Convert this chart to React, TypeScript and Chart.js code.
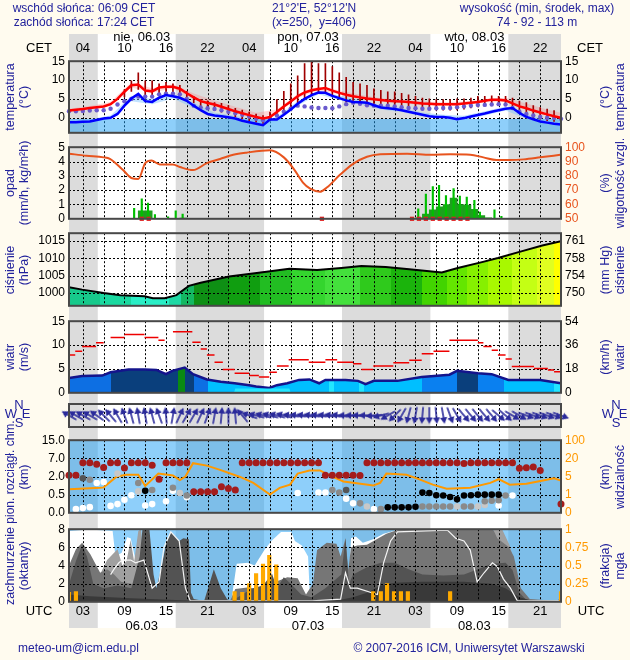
import React, { useEffect, useRef } from 'react';
import { Chart, registerables } from 'chart.js';

Chart.register(...registerables);

// ---------- style constants ----------
const FONT = '"Liberation Sans", Arial, Helvetica, sans-serif';
const CREAM = '#fffbef';
const NIGHT = '#dcdcdc';
const NAVY = '#22229c';
const FRAME = '#484848';
const SKY = 'rgba(30,160,245,0.5)';
const SIDE = 69;
const PAD = 9;

// ---------- time axis ----------
const X_MIN = 1;
const X_MAX = 72;
const HOURS = [1,2,3,4,5,6,7,8,9,10,11,12,13,14,15,16,17,18,19,20,21,22,23,24,25,26,27,28,29,30,31,32,33,34,35,36,37,38,39,40,41,42,43,44,45,46,47,48,49,50,51,52,53,54,55,56,57,58,59,60,61,62,63,64,65,66,67,68,69,70,71,72];
const GRID_HOURS = [3,6,9,12,15,18,21,24,27,30,33,36,39,42,45,48,51,54,57,60,63,66,69];
const LABEL_HOURS = [3,9,15,21,27,33,39,45,51,57,63,69];
const CET_LABELS = ['04','10','16','22','04','10','16','22','04','10','16','22'];
const UTC_LABELS = ['03','09','15','21','03','09','15','21','03','09','15','21'];
const NIGHT_FROM = [1, 16.4, 40.4, 64.4];
const NIGHT_TO = [5.15, 29.15, 53.15, 72];
const DAY_NAMES = ['nie, 06.03', 'pon, 07.03', 'wto, 08.03'];
const DAY_DATES = ['06.03', '07.03', '08.03'];
const DAY_LABEL_HOURS = [11.5, 35.5, 59.5];

// ---------- temperature ----------
const TEMP_TICKS = [0, 5, 10, 15];
const TEMP_LABELS = ['0', '5', '10', '15'];
const TEMP_AIR = [1.9,2.1,2.3,2.6,2.8,3.0,3.6,5.0,6.9,8.6, 8.8,7.2,7.0,8.0,8.2,8.2,7.7,6.5,5.4,4.4, 3.9,3.5,2.9,2.3,1.7,1.2,0.7,0.2,-0.2,0.2, 1.5,3.0,4.3,5.7,6.7,7.3,7.6,7.9,7.2,6.6, 6.1,5.7,5.4,5.1,4.9,4.7,4.5,4.4,4.3,4.2, 4.0,3.8,3.7,3.6,3.6,3.6,3.6,3.8,4.0,4.2, 4.5,4.8,4.8,4.6,3.8,3.0,2.5,1.9,1.4,0.9, 0.4,0.0];
const TEMP_DEW = [-1.2,-1.2,-1.1,-1.0,-0.6,-0.2,0.0,1.0,3.2,5.1, 6.3,4.4,4.2,5.3,6.0,5.7,5.3,4.5,3.2,2.0, 1.0,0.6,0.4,0.1,-0.2,-0.8,-1.2,-1.6,-2.0,-0.5, -0.5,0.8,2.2,3.7,5.0,6.0,6.7,6.6,5.8,5.2, 4.6,4.2,4.1,4.0,3.3,2.7,2.5,2.3,2.0,1.6, 1.2,0.8,0.4,0.2,0.2,0.0,-0.4,-0.1,0.3,0.7, 1.1,1.6,2.0,2.4,2.6,1.3,0.2,-0.4,-1.0,-1.3, -1.6,-1.8];
const TEMP_FEEL = [1.7,1.7,1.8,1.9,2.0,2.0,2.4,3.5,4.4,5.0, 5.6,5.6,5.6,6.2,6.4,6.4,6.2,5.0,3.2,2.7, 2.5,2.3,2.0,1.6,1.2,0.8,0.3,-0.3,-0.7,-0.2, 0.6,1.6,2.4,3.2,3.0,2.7,2.6,2.6,2.5,3.0, 3.6,4.0,3.7,3.3,3.2,3.2,3.2,3.0,2.8,2.6, 2.5,2.4,2.4,2.5,2.6,2.6,2.8,3.0,3.2,3.4, 3.4,3.5,3.6,3.5,2.6,1.6,1.0,0.6,0.2,0.0, -0.1,-0.3];
const BAND_HOURS = [1,4,7,10,13,16,19,22,25,28,31,34,37,40,43,46,49,52,55,58,61,64,67,70,72];
const AIR_BAND_HI = [2.4,3.1,4.2,9.4,7.8,8.9,6.4,4.6,2.9,1.3,2.2,6.3,8.2,7.3,6.1,5.2,4.8,4.3,4.1,4.3,5.0,5.3,3.8,2.2,1.3];
const AIR_BAND_LO = [1.6,2.3,3.2,8.0,6.6,7.8,5.0,3.1,1.3,-0.2,1.1,5.3,7.2,6.2,5.0,4.3,3.9,3.4,3.2,3.4,4.1,4.2,2.1,0.5,-0.4];
const DEW_BAND_HI = [-0.6,-0.4,0.6,5.8,5.0,6.4,4.0,1.3,0.5,-0.9,0.2,4.4,7.2,5.8,4.8,3.3,2.6,1.4,0.8,0.5,1.7,3.0,0.9,-0.6,-1.2];
const DEW_BAND_LO = [-1.6,-1.4,-0.4,4.4,3.6,5.1,2.6,0.1,-0.7,-2.1,-1.0,3.2,6.2,4.7,3.6,2.2,1.5,0.3,-0.3,-0.6,0.6,1.9,-0.3,-1.8,-2.3];
const RANGE_HOURS = [9,10,11,12,13,14,15,16,17,18,19,20,21,22,23,24,25,26,27,28,29,30,31,32,33,34,35,36,37,38,39,40,41,42,43,44,45,46,47,48,49,50,51,52,53,54,55,56,57,58,59,60,61,62,63,64,65,66,67,68,69,70,71];
const RANGE_HIGH = [7.5,9.8,11.9,9.8,9.8,9.0,9.4,9.0,8.6,7.0, 5.7,4.8,4.5,4.0,3.8,3.2,2.5,2.0,1.5,1.0, 0.6,1.5,4.8,7.0,9.0,11.1,14.4,14.8,14.4,14.4, 13.6,11.9,10.7,9.4,9.0,8.6,7.7,7.3,6.9,6.9, 6.5,6.1,5.7,5.2,5.0,4.8,4.8,4.8,5.0,5.0, 5.2,5.7,5.7,5.8,5.7,5.7,5.2,4.4,4.0,3.2, 2.7,2.3,1.9];
const RANGE_LOW = [5.5,7.0,7.5,6.0,6.0,6.5,6.8,6.8,6.5,5.5, 4.0,3.0,2.5,2.0,1.5,1.0,0.3,-0.3,-0.8,-1.2, -1.5,-0.8,0.3,1.5,2.8,4.0,5.0,5.8,6.5,6.5, 5.8,5.0,4.2,3.8,3.5,3.3,3.0,2.8,2.6,2.5, 2.4,2.3,2.2,2.1,2.0,2.0,2.0,2.0,2.1,2.3, 2.6,2.9,3.1,3.3,3.4,3.3,2.4,1.4,0.6,0.0, -0.4,-0.8,-1.0];

// ---------- precipitation / humidity ----------
const PREC_TICKS = [0, 1, 2, 3, 4, 5];
const PREC_LABELS = ['0', '1', '2', '3', '4', '5'];
const RH_TICKS = [50, 60, 70, 80, 90, 100];
const RH_LABELS = ['50', '60', '70', '80', '90', '100'];
const RH_HOURS = [1,3.5,6,6.9,8.8,10,11,12,12.9,14.1,16,17,18.9,20.9,22.8,24.7,26.6,30,32,33.4,34.8,35.8,37.2,38.2,40.1,42,44,45.9,49.8,53.2,56,58.9,60.8,62.7,64.6,66.6,69,71.9];
const RH_VALUES = [95.5,94,92.9,91.8,84,78.5,77.8,88.9,90.7,88,88,86.2,84,88.9,91.8,94.7,96.2,97.8,92.9,85.1,75.1,71,68.9,71.8,80.7,88.4,93.3,95.1,95.5,94.7,95,94.7,92.9,91.1,91.1,91.5,92.9,94.7];
const RAIN_HOURS = [11.5,12.5,17.5,51.5,52.5,53.5,54.5,55.5,56.5,57.5,58.5,59.5,60.5,61.5];
const RAIN_VALUES = [0.55,0.55,0.05,0.07,0.33,0.62,0.84,1.0,1.44,1.0,0.96,0.67,0.22,0.07];
const SHOWER_HOURS = [10.4,11.5,12.4,13.4,15.3,16.4,17.4,51.4,52.5,53.5,54.4,55.4,56.5,57.4,58.4,59.5,60.3,62.4,63.4];
const SHOWER_VALUES = [0.73,1.4,1.1,0.29,0.13,0.55,0.33,0.69,1.73,2.25,2.33,1.62,2.11,1.58,1.51,1.29,0.47,0.62,0.18];
const MARK_HOURS = [11.5,12.5,37.5,50.5,51.5,52.5,53.5,54.5,55.5,56.5,57.5,58.5];

// ---------- pressure ----------
const PRES_TICKS = [1000, 1005, 1010, 1015];
const PRES_LABELS = ['1000', '1005', '1010', '1015'];
const MMHG_LABELS = ['750', '754', '758', '761'];
const PRES_HOURS = [1,2.9,6,8.4,11.9,13.1,14.8,16.5,18.3,20,24.1,28.1,32.8,36.8,40.3,43.2,46.7,50.1,54.8,57.1,60.6,62.9,66.4,69.3,72];
const PRES_VALUES = [1001.6,1000.9,999.9,999.3,999.0,998.4,998.4,999.3,1002.0,1002.9,1004.7,1005.7,1007.0,1006.6,1007.2,1007.8,1007.5,1006.8,1005.9,1007.2,1008.9,1010.1,1012.1,1013.7,1015.0];
const PRES_COLOR_FROM = [1,5.5,10,15.5,17.2,19,24,28.5,33,38,43,47.5,52,55.5,58.5,61.5,65,68.5,71];
const PRES_COLORS = ['#17c98b','#1ad9a0','#2aeec6','#1ed8a4','#14b862','#0e8f14','#109e10','#22bd22','#34d52e','#44e03c','#2fca1c','#1bb40c','#42d400','#64e600','#86f000','#a8f800','#c4ff14','#e0ff20','#ffff00'];

// ---------- wind ----------
const WIND_TICKS = [0, 5, 10, 15];
const WIND_LABELS = ['0', '5', '10', '15'];
const KMH_LABELS = ['0', '18', '36', '54'];
const WIND_HOURS = [1,2.9,5.8,7,9.6,11.9,13.6,15,15.9,17.7,18.9,20.9,22.9,24.9,27,28,29.9,31,32.5,34.2,35.7,37.1,38,40.9,42.7,43.8,45,48.4,51.9,55.9,57,60,62,64.4,66.4,69,72];
const WIND_SPEED = [3.1,3.5,3.6,4.3,4.9,4.9,4.8,3.9,4.6,5.3,3.9,2.8,2.3,2.0,1.6,1.3,1.0,1.6,2.0,2.7,2.8,2.0,2.7,2.7,2.5,1.8,2.5,2.5,3.3,3.8,4.6,4.1,3.9,2.7,2.7,2.7,2.0];
const CALM_HOURS = [24.8, 25, 32.8, 33];
const CALM_SPEED = [0, 0.9, 0.9, 0];
const WIND_COLOR_FROM = [1,7,16.8,17.8,19,21,38.5,39.3,42.8,43.6,52,57,60,63.8,71];
const WIND_COLORS = ['#0d6fe3','#0a3f7c','#0a8a12','#0a3f7c','#0d6fe3','#00bfff','#22e6ff','#00bfff','#22e6ff','#00bfff','#0a80f0','#0a3f7c','#0a80f0','#00bfff','#22e6ff'];
const GUST_FROM = [1,1.9,2.9,4.9,7,9,11.9,13.9,16,18.8,20,20.9,22,23.2,24.9,27,28.4,29.9,31,32.7,35.6,38,39.7,42,43.2,44.9,47.8,50.1,51.9,53.6,55.9,60,60.8,62,62.9,64,64.9,68.1,70.1,71];
const GUST_TO = [1.9,2.9,4.9,6,9,11.9,13.9,14.8,18.8,20,20.9,22,23.2,24.9,27,28.4,29.9,31,32.7,35.6,38,39.7,42,43.2,44.9,47.8,50.1,51.9,53.6,55.9,60,60.8,62,62.9,64,64.9,68.1,70.1,71,72];
const GUST_SPEED = [7.9,8.7,9.7,10.5,11.6,12.2,11.6,11.0,12.8,10.6,9.2,7.9,6.4,4.9,4.1,3.6,3.3,4.3,5.6,6.9,6.4,6.9,6.4,6.1,4.9,5.6,6.3,6.8,8.2,8.7,11.0,10.5,9.7,8.9,7.9,7.1,5.5,5.1,4.8,4.4];
// meteorological wind direction (blowing from, degrees), hourly
const WIND_DIR = [120,120,120,120,125,135,140,150,160,165, 170,170,165,160,175,190,205,210,210,205, 200,190,185,180,175,140,110,105,105,105, 105,105,98,98,98,98,98,98,98,98, 92,92,92,92,85,75,60,45,30,15, 10,5,0,355,350,340,330,320,320,320, 320,320,310,310,300,300,290,290,290,290, 290,290];

// ---------- cloud base / visibility ----------
const CB_POS = [0, 1, 2, 3, 4];
const CB_SCALE = [0, 0.5, 2, 7, 15];
const CB_LABELS = ['0.0', '0.5', '2.0', '7.0', '15.0'];
const VIS_SCALE = [0, 1, 5, 20, 100];
const VIS_LABELS = ['0', '1', '5', '20', '100'];
const VIS_HOURS = [1,5.5,6,7.9,9.3,11,12,13.9,16,17,17.8,18.9,20.9,22.8,25.7,27.6,30,31.4,32.9,34,35.7,37.2,39.1,40.6,42,44.9,45.9,46.8,49.7,51.2,53.5,55.5,58.9,61.8,63,64.6,67,69.4,71,72];
const VIS_KM = [2.2,2.5,2.6,5.0,6.5,6.5,2.9,7.4,5.8,4.2,5.0,16,14,10.5,4.9,3.6,1.0,2.5,3.2,7.4,10,10,4.9,3.9,3.6,3.0,3.6,7.4,6.5,4.6,3.2,2.3,2.5,3.6,4.4,3.2,3.4,4.1,4.6,4.1];
const RED_DOT_HOURS = [1,2,3,4,5,6,7,8,9,10,11,12,13,14,15,16,17,18,19,20,21,22,23,24,25,26,27,28,29,30,31,32,33,34,35,36,37,38,39,40,41,42,43,44,45,46,47,48,49,50,51,52,53,54,55,56,57,58,59,60,61,62,63,64,65,66,67,68,69,72];
const RED_DOT_KM = [2.35,2.35,5.8,5.8,5.4,4.5,5.8,5.8,4.35,5.8,5.8,5.8,5.1,1.78,5.8,5.8,5.8,5.8,0.74,0.74,0.74,0.74,1.15,1.0,0.89, 5.8,5.8,5.8,5.8,5.8,5.8,5.8,5.8,5.8,5.8,5.8,5.8, 2.35,2.35,2.35,2.35,2.35,2.3, 5.8,5.8,5.8,5.8,5.8,5.8,5.8,5.8,5.8,5.8,5.8,5.8,5.8,5.8, 5.6, 5.8,5.8,5.8,5.8,5.8,5.8,5.8, 4.25,4.4,4.65,3.65, 0.24];
const WHITE_DOT_HOURS = [2,3,4,5,6,7,8,9,10,12,13,15,16,18,34,37,38,41,42,45,63,65];
const WHITE_DOT_KM = [0.1,0.13,0.155,1.46,1.54,0.19,0.24,0.36,0.485,0.2,0.24,0.32,0.815,0.43,0.64,0.68,0.68,0.39,0.26,0.1,0.2,0.475];
const LIGHT_DOT_HOURS = [8,11,17,44,57,60,61];
const LIGHT_DOT_KM = [2.8,0.77,0.635,0.175,0.175,0.175,0.215];
const GRAY_DOT_HOURS = [4,11,13,16,18,39,40,43,46,52,53,54,55,56,58,59,61,62,63,64];
const GRAY_DOT_KM = [1.73,1.46,0.89,1.07,0.475,0.89,0.68,0.26,0.1,0.175,0.175,0.175,0.175,0.175,0.175,0.175,0.32,0.33,0.345,0.475];
const DARK_DOT_HOURS = [3,41];
const DARK_DOT_KM = [1.85,0.89];
const BLACK_DOT_HOURS = [12,47,48,49,50,51,52,53,54,55,56,57,58,59,60,61,62,63];
const BLACK_DOT_KM = [0.815,0.15,0.15,0.15,0.15,0.165,0.68,0.635,0.485,0.475,0.435,0.37,0.475,0.485,0.5,0.5,0.5,0.5];

// ---------- cloud cover / fog ----------
const CC_TICKS = [0, 2, 4, 6, 8];
const CC_LABELS = ['0', '2', '4', '6', '8'];
const FOG_TICKS = [0, 0.25, 0.5, 0.75, 1];
const FOG_LABELS = ['0', '0.25', '0.5', '0.75', '1'];
const CLOUD_WHITE_H = [1,3,5,7.3,7.7,8.6,9.4,9.9,10.6,11.8,12.3,24.4,25.2,26.8,27.8,29.2,30.2,31.6,33.1,33.6,34.6,35.5,35.8,41.2,41.7,42.4,43.4,44.9,46.4,48.4,50.8,52,53,72];
const CLOUD_WHITE_V = [7.8,7.9,7.9,7.8,5.0,5.4,7.1,7.0,4.6,4.6,0.5,0,4.2,4.3,4.0,5.7,6.7,7.7,7.7,6.7,6.2,5.0,0,0,7.0,7.2,6.5,6.9,7.5,7.9,8,8,0,0];
const CLOUD_LIGHT_H = [1,5,5.6,6.5,8,8.7,9.3,9.9,10.4,11,11.4,11.8,12.3,62,62.3,63.5,64.6,65.2,65.8,66.5,72];
const CLOUD_LIGHT_V = [0,3.0,3.2,4.6,5.8,4.0,4.5,6.8,4.4,7.8,8,3,0,0,8,8,6.2,4.5,1.5,0.3,0];
const CLOUD_MID_H = [1,2,2.9,4.1,5.5,6.5,7.5,8.5,10,11.2,13,18.8,24.3,25,27,28.5,30,31.5,32.5,34,35.2,36.2,36.8,38.2,39.6,40.2,40.9,41.3,41.7,42.6,44,45.4,46.8,48.4,50,62.2,62.8,64.5,65.2,66.2,67.5,71.5,72];
const CLOUD_MID_V = [4.0,5.8,6.5,5.2,3.2,3.6,3.0,2.2,2.0,1.5,1.0,0.2,0.2,1.4,1.6,1.2,2.0,2.4,2.7,2.6,0.8,2.0,5.7,6.5,6.4,5.0,7.0,3.5,6.0,6.2,6.3,6.9,7.5,7.9,8,8,7.0,6.0,5.0,1.5,0.3,0.1,0.6];
const CLOUD_DARK_H = [1,2,2.9,3.6,4.5,6,8,10,11.2,11.6,12.6,13.2,13.6,14.4,15,15.7,16.9,17.5,18.3,18.6,19,20.5,21.9,22.9,23.8,24.3,27.5,29,30.3,31,32,33,34.5,36,38,40.3,40.9,41.4,42,44,46,48,50,52,55,58,60,62,64,65,66,67,72];
const CLOUD_DARK_V = [1.9,4.5,6.3,5.0,2.0,1.5,1.8,1.5,5.0,8,8,3.0,1.5,4.0,6.4,7.7,6.7,7.0,6.9,1.0,0.3,0.1,3.6,1.5,0.3,0,1.5,1.8,3.1,1.5,2.7,2.0,0.8,0.5,1.5,3.0,7.0,2.0,3.0,3.8,4.3,4.3,3.6,3.0,2.9,3.0,3.6,4.2,4.3,3.5,1.0,0.2,0.1];
const CLOUD_DARKEST_H = [1,4,10,20,40,42,44,46,48,52,58,62,64,66,68,72];
const CLOUD_DARKEST_V = [0.8,0.6,0.4,0.1,0.2,0.5,1.0,1.8,2.1,2.2,2.2,2.0,1.5,0.5,0.1,0];
const CLOUD_LINE_H = [7,7.5,8.2,8.7,9.9,10.6,11.8,13,14,14.7,15.7,16.9,17.8,18.5,24.3,36.1,40.2,40.9,41.6,42.6,45.5,46.4,47.4,48.4,55.6,56.8,58,58.9,59.9,60.9,62.1,62.8,63.7,64.7,65.7,72];
const CLOUD_LINE_V = [3.0,3.6,4.3,4.6,4.6,4.3,4.6,1.5,2.2,6.0,7.7,6.7,1.5,0.1,0.1,0.1,0.3,3.2,1.5,1.5,0.8,4.3,6.7,7.7,7.9,7.0,6.7,5.7,2.2,3.2,4.3,3.9,2.5,1.5,0.1,0.1];
const FOG_HOURS = [1,2,24.9,26,27,28,29,29.9,30.9,44.9,46,46.9,47.9,48.9,49.9,56,72];
const FOG_VALUES = [0.13,0.14,0.14,0.13,0.25,0.39,0.52,0.64,0.51,0.14,0.14,0.25,0.14,0.14,0.14,0.14,0.14];

// ---------- panel placement (page px) ----------
const P_TEMP = [59, 135];
const P_PREC = [145, 221];
const P_PRES = [231, 308];
const P_WIND = [319, 395];
const P_ARROW = [403, 428];
const P_CBASE = [438, 515];
const P_CLOUD = [527, 604];

// ---------- helpers ----------
const zip = (xs: number[], ys: (number | null)[]) => xs.map((x, i) => ({ x, y: ys[i] }));

function toPos(v: number, scale: number[]) {
  for (let i = 0; i < scale.length - 1; i++) {
    if (v <= scale[i + 1]) return i + (v - scale[i]) / (scale[i + 1] - scale[i]);
  }
  return scale.length - 1;
}

function stripGradient(chart: any, froms: number[], colors: string[]) {
  const a = chart.chartArea;
  if (!a) return colors[0];
  const x = chart.scales.x;
  const w = a.right - a.left;
  const pos = (h: number) => Math.min(1, Math.max(0, (x.getPixelForValue(h) - a.left) / w));
  const g = chart.ctx.createLinearGradient(a.left, 0, a.right, 0);
  froms.forEach((f, i) => {
    const t = i + 1 < froms.length ? froms[i + 1] : X_MAX;
    g.addColorStop(pos(f), colors[i]);
    g.addColorStop(pos(t), colors[i]);
  });
  return g;
}

function drawGrid(chart: any, yGrid: number[]) {
  const { ctx, chartArea: a, scales } = chart;
  ctx.save();
  ctx.beginPath();
  ctx.rect(a.left, a.top, a.right - a.left, a.bottom - a.top);
  ctx.clip();
  ctx.strokeStyle = '#000';
  ctx.lineWidth = 1;
  ctx.setLineDash([2, 2]);
  ctx.beginPath();
  for (const h of GRID_HOURS) {
    const px = Math.round(scales.x.getPixelForValue(h)) + 0.5;
    ctx.moveTo(px, a.top);
    ctx.lineTo(px, a.bottom);
  }
  for (const v of yGrid) {
    const py = Math.round(scales.y.getPixelForValue(v)) + 0.5;
    ctx.moveTo(a.left, py);
    ctx.lineTo(a.right, py);
  }
  ctx.stroke();
  ctx.restore();
}

function meteoPlugin(o: { bg?: string; freezeBelow?: number; gridOnTop?: boolean; yGrid: number[] }) {
  return {
    id: 'meteo',
    beforeDatasetsDraw(chart: any) {
      const { ctx, chartArea: a, scales } = chart;
      if (o.bg) {
        ctx.save();
        ctx.fillStyle = o.bg;
        ctx.fillRect(a.left, a.top, a.right - a.left, a.bottom - a.top);
        ctx.restore();
      }
      if (!o.gridOnTop) drawGrid(chart, o.yGrid);
      if (o.freezeBelow !== undefined) {
        const y0 = Math.round(scales.y.getPixelForValue(o.freezeBelow)) + 1;
        ctx.save();
        ctx.fillStyle = SKY;
        ctx.fillRect(a.left, y0, a.right - a.left, a.bottom - y0);
        ctx.restore();
      }
    },
    afterDatasetsDraw(chart: any) {
      if (o.gridOnTop) drawGrid(chart, o.yGrid);
      const { ctx, chartArea: a } = chart;
      ctx.save();
      ctx.strokeStyle = FRAME;
      ctx.lineWidth = 2;
      ctx.setLineDash([]);
      ctx.strokeRect(a.left, a.top, a.right - a.left, a.bottom - a.top);
      ctx.restore();
    },
  };
}

function yAxis(position: string, min: number, max: number, ticks: number[], labels: string[], color = '#000', show = true) {
  return {
    type: 'linear',
    position,
    min,
    max,
    display: true,
    beginAtZero: false,
    afterFit: (s: any) => { s.width = SIDE; },
    afterBuildTicks: (s: any) => { s.ticks = ticks.map((v) => ({ value: v })); },
    grid: { display: false, drawTicks: false },
    border: { display: false },
    ticks: {
      display: show,
      autoSkip: false,
      color,
      padding: 4,
      font: { family: FONT, size: 12 },
      callback: (_v: any, i: number) => labels[i],
    },
  };
}

function panel(datasets: any[], y: any, y2: any, plug: any) {
  return {
    type: 'line',
    data: { datasets },
    options: {
      responsive: false,
      animation: false,
      devicePixelRatio: 1,
      events: [],
      layout: { padding: { top: PAD, bottom: PAD, left: 0, right: 0 } },
      scales: {
        x: { type: 'linear', min: X_MIN, max: X_MAX, display: false, offset: false, grid: { offset: false } },
        y,
        y2,
      },
      plugins: { legend: { display: false }, tooltip: { enabled: false } },
    },
    plugins: [plug],
  };
}

const line = (data: any[], extra: any) => ({ type: 'line', data, pointRadius: 0, tension: 0, fill: false, ...extra });
const dots = (data: any[], color: string, r: number, order: number) => ({
  type: 'line', data, showLine: false, pointRadius: r, pointBackgroundColor: color,
  pointBorderWidth: 0, order, clip: false,
});

// ---------- chart builders ----------
function makeBackground() {
  return {
    type: 'line',
    data: { datasets: [] },
    options: {
      responsive: false, animation: false, devicePixelRatio: 1, events: [],
      layout: { padding: { left: SIDE, right: SIDE, top: 34, bottom: 32 } },
      scales: {
        x: { type: 'linear', min: X_MIN, max: X_MAX, display: false, offset: false },
        y: { type: 'linear', min: 0, max: 1, display: false },
      },
      plugins: { legend: { display: false }, tooltip: { enabled: false } },
    },
    plugins: [{
      id: 'bands',
      beforeDraw(chart: any) {
        const { ctx, chartArea: a, scales: { x } } = chart;
        ctx.save();
        ctx.fillStyle = CREAM;
        ctx.fillRect(0, 0, chart.width, chart.height);
        ctx.fillStyle = '#ffffff';
        ctx.fillRect(a.left, a.top, a.right - a.left, a.bottom - a.top);
        ctx.fillStyle = NIGHT;
        NIGHT_FROM.forEach((f, i) => {
          const x0 = x.getPixelForValue(f);
          const x1 = x.getPixelForValue(NIGHT_TO[i]);
          ctx.fillRect(x0, a.top, x1 - x0, a.bottom - a.top);
        });
        ctx.fillStyle = '#000';
        ctx.font = `13px ${FONT}`;
        ctx.textAlign = 'center';
        ctx.textBaseline = 'middle';
        LABEL_HOURS.forEach((h, i) => {
          const px = x.getPixelForValue(h);
          ctx.fillText(CET_LABELS[i], px, 48);
          ctx.fillText(UTC_LABELS[i], px, 611);
        });
        DAY_LABEL_HOURS.forEach((h, i) => {
          const px = x.getPixelForValue(h);
          ctx.fillText(DAY_NAMES[i], px, 37);
          ctx.fillText(DAY_DATES[i], px, 626);
        });
        ctx.fillText('CET', 39, 48);
        ctx.fillText('CET', 590, 48);
        ctx.fillText('UTC', 39, 611);
        ctx.fillText('UTC', 591, 611);
        ctx.restore();
      },
    }],
  };
}

function makeTemp() {
  return panel(
    [
      line(zip(HOURS, TEMP_AIR), { borderColor: '#ff0000', borderWidth: 2.5, order: 1 }),
      line(zip(HOURS, TEMP_DEW), { borderColor: '#0000ff', borderWidth: 2.5, order: 2 }),
      dots(zip(HOURS, TEMP_FEEL), '#6a5acd', 2.2, 3),
      { type: 'bar', data: RANGE_HOURS.map((h, i) => ({ x: h, y: [RANGE_LOW[i], RANGE_HIGH[i]] })), backgroundColor: '#a00000', barThickness: 1, grouped: false, order: 4 },
      line(zip(BAND_HOURS, AIR_BAND_HI), { fill: '+1', backgroundColor: 'rgba(255,120,120,0.28)', borderWidth: 0, order: 6 }),
      line(zip(BAND_HOURS, AIR_BAND_LO), { borderWidth: 0, order: 6 }),
      line(zip(BAND_HOURS, DEW_BAND_HI), { fill: '+1', backgroundColor: 'rgba(120,190,255,0.45)', borderWidth: 0, order: 5 }),
      line(zip(BAND_HOURS, DEW_BAND_LO), { borderWidth: 0, order: 5 }),
    ],
    yAxis('left', -4, 15, TEMP_TICKS, TEMP_LABELS),
    yAxis('right', -4, 15, TEMP_TICKS, TEMP_LABELS),
    meteoPlugin({ freezeBelow: 0, yGrid: TEMP_TICKS }),
  );
}

function makePrec() {
  return panel(
    [
      line(zip(RH_HOURS, RH_VALUES), { yAxisID: 'y2', borderColor: '#e8541e', borderWidth: 2, cubicInterpolationMode: 'monotone', order: 1 }),
      { type: 'line', data: MARK_HOURS.map((h) => ({ x: h, y: 0 })), showLine: false, pointStyle: 'rect', pointRadius: 3, pointBackgroundColor: '#e02020', pointBorderWidth: 0, order: 2, clip: false },
      { type: 'bar', data: zip(SHOWER_HOURS, SHOWER_VALUES), backgroundColor: '#00c000', barThickness: 1.5, grouped: false, order: 3 },
      { type: 'bar', data: zip(RAIN_HOURS, RAIN_VALUES), backgroundColor: '#1da01d', barThickness: 7, grouped: false, order: 4 },
    ],
    yAxis('left', 0, 5, PREC_TICKS, PREC_LABELS),
    yAxis('right', 50, 100, RH_TICKS, RH_LABELS, '#e8541e'),
    meteoPlugin({ yGrid: PREC_TICKS }),
  );
}

function makePres() {
  return panel(
    [
      line(zip(PRES_HOURS, PRES_VALUES), {
        borderColor: '#000', borderWidth: 2, fill: 'start',
        backgroundColor: (c: any) => stripGradient(c.chart, PRES_COLOR_FROM, PRES_COLORS),
      }),
    ],
    yAxis('left', 996.2, 1017.3, PRES_TICKS, PRES_LABELS),
    yAxis('right', 996.2, 1017.3, PRES_TICKS, MMHG_LABELS),
    meteoPlugin({ gridOnTop: true, yGrid: PRES_TICKS }),
  );
}

function makeWind() {
  const gusts: any[] = [];
  GUST_FROM.forEach((f, i) => {
    gusts.push({ x: f, y: GUST_SPEED[i] }, { x: GUST_TO[i], y: GUST_SPEED[i] }, { x: GUST_TO[i], y: null });
  });
  return panel(
    [
      line(gusts, { borderColor: '#ee0000', borderWidth: 1.5, spanGaps: false, order: 1 }),
      line(zip(CALM_HOURS, CALM_SPEED), { borderWidth: 0, fill: 'start', backgroundColor: '#22e6ff', order: 2 }),
      line(zip(WIND_HOURS, WIND_SPEED), {
        borderColor: '#14148c', borderWidth: 2.5, fill: 'start', order: 3,
        backgroundColor: (c: any) => stripGradient(c.chart, WIND_COLOR_FROM, WIND_COLORS),
      }),
    ],
    yAxis('left', 0, 15, WIND_TICKS, WIND_LABELS),
    yAxis('right', 0, 15, WIND_TICKS, KMH_LABELS),
    meteoPlugin({ yGrid: WIND_TICKS }),
  );
}

function makeArrowImage() {
  const c = document.createElement('canvas');
  c.width = 18;
  c.height = 18;
  const g = c.getContext('2d')!;
  g.strokeStyle = '#2a2a9a';
  g.fillStyle = '#2a2a9a';
  g.lineWidth = 1.6;
  g.beginPath();
  g.moveTo(9, 17.5);
  g.lineTo(9, 5);
  g.stroke();
  g.beginPath();
  g.moveTo(9, 0.5);
  g.lineTo(5.4, 7);
  g.lineTo(12.6, 7);
  g.closePath();
  g.fill();
  return c;
}

function makeArrows() {
  const img = makeArrowImage();
  return panel(
    [
      {
        type: 'line', data: HOURS.map((h) => ({ x: h, y: 0.5 })), showLine: false,
        pointStyle: img, pointRadius: 9, clip: false,
        rotation: (c: any) => (WIND_DIR[c.dataIndex] + 180) % 360,
      },
    ],
    yAxis('left', 0, 1, [], [], '#000', false),
    yAxis('right', 0, 1, [], [], '#000', false),
    meteoPlugin({ yGrid: [] }),
  );
}

function makeCloudBase() {
  const cb = (hs: number[], ks: number[]) => hs.map((h, i) => ({ x: h, y: toPos(ks[i], CB_SCALE) }));
  return panel(
    [
      line(VIS_HOURS.map((h, i) => ({ x: h, y: toPos(VIS_KM[i], VIS_SCALE) })), { borderColor: '#ff9900', borderWidth: 2, order: 10 }),
      dots(cb(WHITE_DOT_HOURS, WHITE_DOT_KM), '#ffffff', 3.3, 5),
      dots(cb(LIGHT_DOT_HOURS, LIGHT_DOT_KM), '#c8c8c8', 3.3, 4),
      dots(cb(GRAY_DOT_HOURS, GRAY_DOT_KM), '#8a8a8a', 3.3, 3),
      dots(cb(DARK_DOT_HOURS, DARK_DOT_KM), '#555555', 3.3, 2),
      dots(cb(BLACK_DOT_HOURS, BLACK_DOT_KM), '#000000', 3.3, 1),
      dots(cb(RED_DOT_HOURS, RED_DOT_KM), '#a41c1c', 3.5, 0),
    ],
    yAxis('left', 0, 4, CB_POS, CB_LABELS),
    yAxis('right', 0, 4, CB_POS, VIS_LABELS, '#ff9900'),
    meteoPlugin({ bg: SKY, yGrid: CB_POS }),
  );
}

function makeCloud() {
  const area = (hs: number[], vs: number[], color: string, order: number) =>
    line(zip(hs, vs), { fill: 'origin', backgroundColor: color, borderWidth: 0, order });
  return panel(
    [
      area(CLOUD_WHITE_H, CLOUD_WHITE_V, '#ffffff', 10),
      area(CLOUD_LIGHT_H, CLOUD_LIGHT_V, '#a0a0a0', 9),
      area(CLOUD_MID_H, CLOUD_MID_V, '#767676', 8),
      area(CLOUD_DARK_H, CLOUD_DARK_V, '#535353', 7),
      area(CLOUD_DARKEST_H, CLOUD_DARKEST_V, '#393939', 6),
      line(zip(CLOUD_LINE_H, CLOUD_LINE_V), { borderColor: '#f4f4f4', borderWidth: 1.2, order: 3 }),
      { type: 'bar', yAxisID: 'y2', data: zip(FOG_HOURS, FOG_VALUES), backgroundColor: '#ffaa00', barThickness: 3.5, grouped: false, order: 1 },
    ],
    yAxis('left', 0, 8, CC_TICKS, CC_LABELS),
    yAxis('right', 0, 1, FOG_TICKS, FOG_LABELS, '#ff9900'),
    meteoPlugin({ bg: SKY, gridOnTop: true, yGrid: CC_TICKS }),
  );
}

// ---------- React ----------
function ChartCanvas({ top, height, make }: { top: number; height: number; make: () => any }) {
  const ref = useRef<HTMLCanvasElement>(null);
  useEffect(() => {
    const chart = new Chart(ref.current as HTMLCanvasElement, make());
    return () => chart.destroy();
  }, []);
  return (
    <canvas
      ref={ref}
      width={630}
      height={height}
      style={{ position: 'absolute', left: 0, top, width: 630, height }}
    />
  );
}

function PanelCanvas({ area, make }: { area: number[]; make: () => any }) {
  return <ChartCanvas top={area[0] - PAD} height={area[1] - area[0] + 2 * PAD} make={make} />;
}

function Txt({ x, y, text, align = 'center', color = NAVY, size = 12 }: any) {
  const tx = align === 'center' ? '-50%' : align === 'right' ? '-100%' : '0';
  return (
    <div style={{
      position: 'absolute', left: x, top: y, transform: `translate(${tx}, -50%)`,
      whiteSpace: 'pre', fontFamily: FONT, fontSize: size, color, lineHeight: '14px',
    }}>{text}</div>
  );
}

function VText({ x, y, text, color = NAVY, size = 12.5 }: any) {
  return (
    <div style={{
      position: 'absolute', left: x, top: y, transform: 'translate(-50%, -50%) rotate(-90deg)',
      whiteSpace: 'pre', fontFamily: FONT, fontSize: size, color, lineHeight: '14px',
    }}>{text}</div>
  );
}

const mid = (p: number[]) => (p[0] + p[1]) / 2;

export default function App() {
  return (
    <div style={{ position: 'absolute', left: 0, top: 0, width: 630, height: 660, background: CREAM, overflow: 'hidden' }}>
      <ChartCanvas top={0} height={660} make={makeBackground} />
      <PanelCanvas area={P_TEMP} make={makeTemp} />
      <PanelCanvas area={P_PREC} make={makePrec} />
      <PanelCanvas area={P_PRES} make={makePres} />
      <PanelCanvas area={P_WIND} make={makeWind} />
      <PanelCanvas area={P_ARROW} make={makeArrows} />
      <PanelCanvas area={P_CBASE} make={makeCloudBase} />
      <PanelCanvas area={P_CLOUD} make={makeCloud} />

      <Txt x={84} y={8} text="wschód słońca: 06:09 CET" />
      <Txt x={84} y={22} text="zachód słońca: 17:24 CET" />
      <Txt x={314} y={8} text="21°2'E, 52°12'N" />
      <Txt x={314} y={22} text="(x=250,  y=406)" />
      <Txt x={537} y={8} text="wysokość (min, środek, max)" />
      <Txt x={537} y={22} text="74 - 92 - 113 m" />

      <VText x={10} y={mid(P_TEMP)} text="temperatura" />
      <VText x={24} y={mid(P_TEMP)} text="(°C)" />
      <VText x={605} y={mid(P_TEMP)} text="(°C)" />
      <VText x={620} y={mid(P_TEMP)} text="temperatura" />

      <VText x={10} y={mid(P_PREC)} text="opad" />
      <VText x={24} y={mid(P_PREC)} text="(mm/h, kg/m²h)" />
      <VText x={605} y={mid(P_PREC)} text="(%)" />
      <VText x={620} y={mid(P_PREC)} text="wilgotność wzgl." />

      <VText x={10} y={mid(P_PRES)} text="ciśnienie" />
      <VText x={24} y={mid(P_PRES)} text="(hPa)" />
      <VText x={605} y={mid(P_PRES)} text="(mm Hg)" />
      <VText x={620} y={mid(P_PRES)} text="ciśnienie" />

      <VText x={10} y={mid(P_WIND)} text="wiatr" />
      <VText x={24} y={mid(P_WIND)} text="(m/s)" />
      <VText x={605} y={mid(P_WIND)} text="(km/h)" />
      <VText x={620} y={mid(P_WIND)} text="wiatr" />

      <VText x={10} y={472} text="pion. rozciągł. chm." size={12} />
      <VText x={24} y={mid(P_CBASE)} text="(km)" />
      <VText x={605} y={mid(P_CBASE)} text="(km)" />
      <VText x={620} y={mid(P_CBASE)} text="widzialność" />

      <VText x={10} y={566} text="zachmurzenie" />
      <VText x={24} y={mid(P_CLOUD)} text="(oktanty)" />
      <VText x={605} y={mid(P_CLOUD)} text="(frakcja)" />
      <VText x={620} y={mid(P_CLOUD)} text="mgła" />

      <Txt x={19} y={405} text="N" size={13} />
      <Txt x={11} y={414} text="W" size={13} />
      <Txt x={26} y={414} text="E" size={13} />
      <Txt x={19} y={423} text="S" size={13} />
      <Txt x={616} y={405} text="N" size={13} />
      <Txt x={608} y={414} text="W" size={13} />
      <Txt x={623} y={414} text="E" size={13} />
      <Txt x={616} y={423} text="S" size={13} />

      <Txt x={18} y={648} text="meteo-um@icm.edu.pl" align="left" />
      <Txt x={469} y={648} text="© 2007-2016 ICM, Uniwersytet Warszawski" />
    </div>
  );
}
